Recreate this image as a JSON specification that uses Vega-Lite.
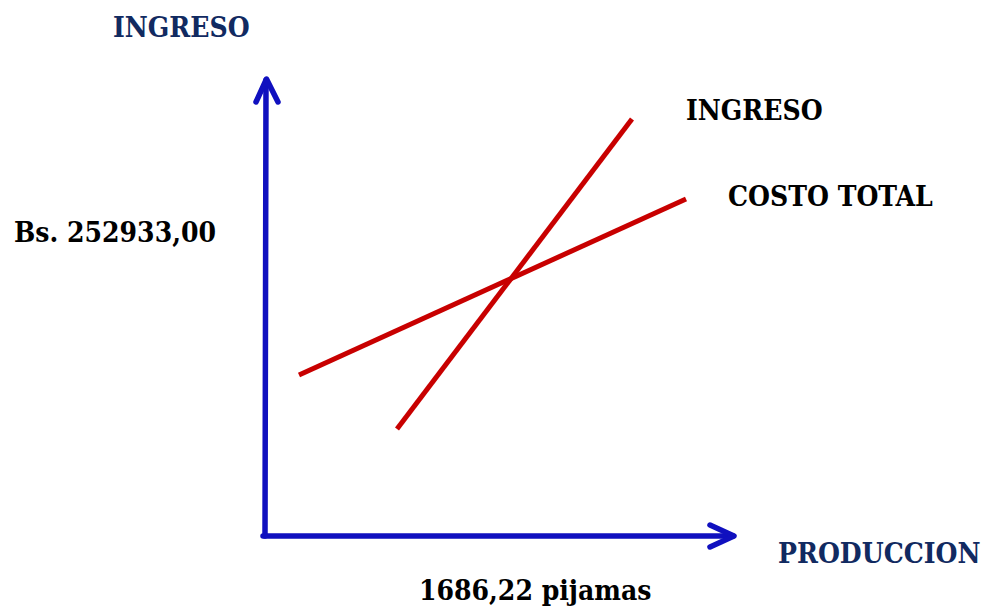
{
  "$schema": "https://vega.github.io/schema/vega-lite/v6.json",
  "width": 981,
  "height": 609,
  "autosize": {"type": "fit", "contains": "padding"},
  "padding": 0,
  "background": "white",
  "config": {"view": {"stroke": null}},
  "datasets": {
    "ejes": [
      {"serie": "eje_y", "orden": 1, "x": 265, "y": 73},
      {"serie": "eje_y", "orden": 2, "x": 266, "y": 529},
      {"serie": "flecha_y", "orden": 1, "x": 256, "y": 507},
      {"serie": "flecha_y", "orden": 2, "x": 266.5, "y": 530},
      {"serie": "flecha_y", "orden": 3, "x": 278, "y": 507},
      {"serie": "eje_x", "orden": 1, "x": 263, "y": 73},
      {"serie": "eje_x", "orden": 2, "x": 733, "y": 73},
      {"serie": "flecha_x", "orden": 1, "x": 710, "y": 84},
      {"serie": "flecha_x", "orden": 2, "x": 734, "y": 73},
      {"serie": "flecha_x", "orden": 3, "x": 710, "y": 62}
    ],
    "curvas": [
      {"serie": "INGRESO", "x": 397, "y": 180},
      {"serie": "INGRESO", "x": 632, "y": 490},
      {"serie": "COSTO TOTAL", "x": 299, "y": 234},
      {"serie": "COSTO TOTAL", "x": 686, "y": 410}
    ],
    "textos": [
      {"texto": "INGRESO", "grupo": "eje", "x": 113, "y": 572},
      {"texto": "INGRESO", "grupo": "curva", "x": 686, "y": 489},
      {"texto": "COSTO TOTAL", "grupo": "curva", "x": 728, "y": 403},
      {"texto": "Bs. 252933,00", "grupo": "curva", "x": 14, "y": 367},
      {"texto": "PRODUCCION", "grupo": "eje", "x": 778, "y": 46},
      {"texto": "1686,22 pijamas", "grupo": "curva", "x": 419, "y": 9}
    ]
  },
  "encoding": {
    "x": {"field": "x", "type": "quantitative", "scale": {"domain": [0, 981], "nice": false, "zero": false}, "axis": null},
    "y": {"field": "y", "type": "quantitative", "scale": {"domain": [0, 609], "nice": false, "zero": false}, "axis": null}
  },
  "layer": [
    {
      "data": {"name": "ejes"},
      "mark": {"type": "line", "color": "#1010BF", "strokeWidth": 5.5, "strokeCap": "round", "strokeJoin": "round"},
      "encoding": {
        "detail": {"field": "serie", "type": "nominal"},
        "order": {"field": "orden", "type": "quantitative"}
      }
    },
    {
      "data": {"name": "curvas"},
      "mark": {"type": "line", "color": "#C80000", "strokeWidth": 5, "strokeCap": "butt"},
      "encoding": {
        "detail": {"field": "serie", "type": "nominal"}
      }
    },
    {
      "data": {"name": "textos"},
      "mark": {"type": "text", "align": "left", "baseline": "alphabetic", "font": "'DejaVu Serif Condensed', 'DejaVu Serif', serif", "fontWeight": "bold", "fontSize": 28},
      "encoding": {
        "text": {"field": "texto", "type": "nominal"},
        "color": {"field": "grupo", "type": "nominal", "scale": {"domain": ["eje", "curva"], "range": ["#112A61", "#000000"]}, "legend": null}
      }
    }
  ]
}
